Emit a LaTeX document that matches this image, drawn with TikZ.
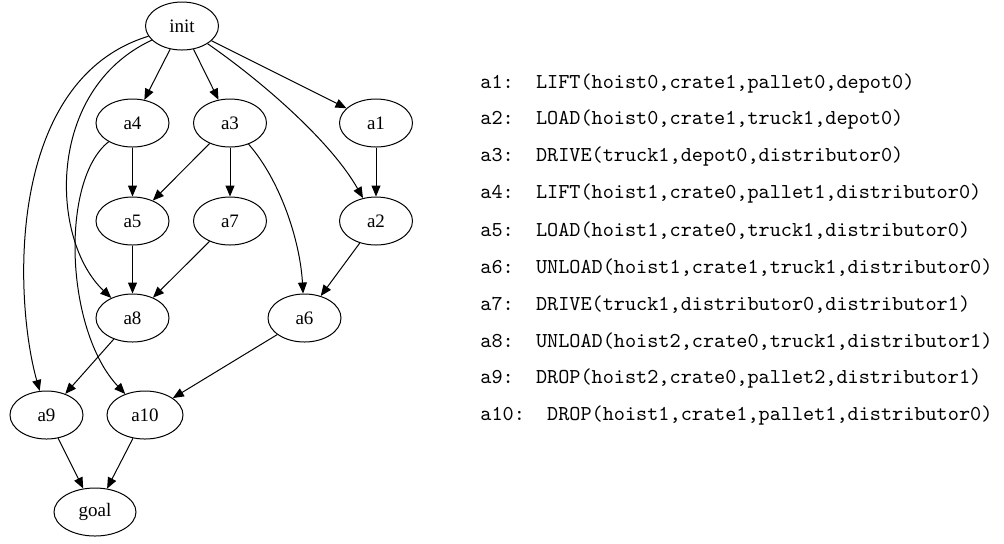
\documentclass[tikz,border=0pt]{standalone}
\usepackage{fontspec}
\newfontfamily\nodefont{Liberation Serif}
\usepackage{tikz}
\usetikzlibrary{shapes.geometric,arrows.meta}
\tikzstyle{action} = [ellipse, draw=black, line width=0.5pt, inner sep=0pt,
    minimum width=36.5pt, minimum height=24pt, font=\nodefont\fontsize{9.5}{11}\selectfont]
\tikzstyle{myarrow} = [line width=0.5pt,-{Triangle[length=5.5pt,width=4.5pt]}]
\tikzstyle{legend} = [anchor=west, inner sep=0pt, font=\fontsize{10.6}{12}\selectfont\ttfamily]

\begin{document}
\begin{tikzpicture}[x=0.5pt,y=-0.5pt]
\useasboundingbox (0,0) rectangle (1004,543);
% plan graph
\node[action] (init) at (182,26) {init};
\node[action] (a4) at (132.5,123) {a4};
\node[action] (a3) at (230,123) {a3};
\node[action] (a1) at (376,123) {a1};
\node[action] (a5) at (132.5,221) {a5};
\node[action] (a7) at (230,221) {a7};
\node[action] (a2) at (376,221) {a2};
\node[action] (a8) at (132.5,318) {a8};
\node[action] (a6) at (304.5,318) {a6};
\node[action] (a9) at (46.5,415) {a9};
\node[action, minimum width=38pt] (a10) at (145,415) {a10};
\node[action, minimum width=41pt] (goal) at (95,512) {goal};

\draw[myarrow] (init) -- (a4);
\draw[myarrow] (init) -- (a3);
\draw[myarrow] (init) -- (a1);
\draw[myarrow] (init) .. controls (260,80) and (330,140) .. (a2);
\draw[myarrow] (init) .. controls (45,90) and (50,240) .. (a8);
\draw[myarrow] (init) .. controls (5,80) and (14,300) .. (a9);
\draw[myarrow] (a4) -- (a5);
\draw[myarrow] (a4) .. controls (60,180) and (65,330) .. (a10);
\draw[myarrow] (a3) -- (a5);
\draw[myarrow] (a3) -- (a7);
\draw[myarrow] (a3) .. controls (280,180) and (300,240) .. (a6);
\draw[myarrow] (a1) -- (a2);
\draw[myarrow] (a5) -- (a8);
\draw[myarrow] (a7) -- (a8);
\draw[myarrow] (a2) -- (a6);
\draw[myarrow] (a8) -- (a9);
\draw[myarrow] (a6) -- (a10);
\draw[myarrow] (a9) -- (goal);
\draw[myarrow] (a10) -- (goal);

% action list
\node[legend] (l1) at (480,83) {a1:\ \ LIFT(hoist0,crate1,pallet0,depot0)};
\node[legend] (l2) at (480,119.9) {a2:\ \ LOAD(hoist0,crate1,truck1,depot0)};
\node[legend] (l3) at (480,156.8) {a3:\ \ DRIVE(truck1,depot0,distributor0)};
\node[legend] (l4) at (480,193.7) {a4:\ \ LIFT(hoist1,crate0,pallet1,distributor0)};
\node[legend] (l5) at (480,230.6) {a5:\ \ LOAD(hoist1,crate0,truck1,distributor0)};
\node[legend] (l6) at (480,267.5) {a6:\ \ UNLOAD(hoist1,crate1,truck1,distributor0)};
\node[legend] (l7) at (480,304.4) {a7:\ \ DRIVE(truck1,distributor0,distributor1)};
\node[legend] (l8) at (480,341.3) {a8:\ \ UNLOAD(hoist2,crate0,truck1,distributor1)};
\node[legend] (l9) at (480,378.2) {a9:\ \ DROP(hoist2,crate0,pallet2,distributor1)};
\node[legend] (l10) at (480,415.1) {a10:\ \ DROP(hoist1,crate1,pallet1,distributor0)};
\end{tikzpicture}
\end{document}
